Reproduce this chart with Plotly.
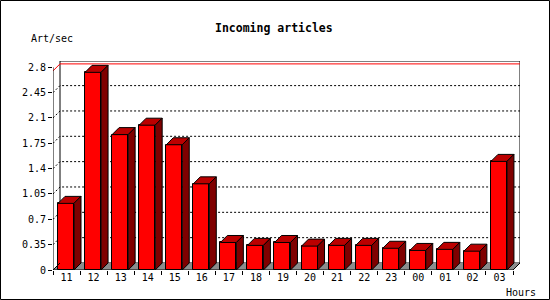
import plotly.graph_objects as go

# ---- data ----
hours = ["11", "12", "13", "14", "15", "16", "17", "18", "19", "20",
         "21", "22", "23", "00", "01", "02", "03"]
rates = [0.92, 2.73, 1.87, 2.0, 1.73, 1.19, 0.38, 0.34, 0.38, 0.33,
         0.34, 0.34, 0.30, 0.27, 0.285, 0.26, 1.50]
ytick_vals = [0, 0.35, 0.7, 1.05, 1.4, 1.75, 2.1, 2.45, 2.8]
ytick_text = ["0", "0.35", "0.7", "1.05", "1.4", "1.75", "2.1", "2.45", "2.8"]
max_line = 2.75
title = "Incoming articles"
ylabel = "Art/sec"
xlabel = "Hours"

# ---- geometry (pixels) ----
W, H = 550, 300
ML, MR, MT, MB = 53, 30, 61, 30
PW, PH = W - ML - MR, H - MT - MB
n = len(hours)
px_per_cat = 460 / n
px_per_unit = 72.4
DEPTH = 7
dx = DEPTH / px_per_cat
dy = DEPTH / px_per_unit
x0 = -0.5
xmax = x0 + PW / px_per_cat
ymax = PH / px_per_unit
xend = x0 + n
bw = 16 / px_per_cat
boff = -0.5 + 5 / px_per_cat

def xp(px):
    return (px - ML) / PW

def yp(py):
    return (H - MB - py) / PH

idx = list(range(n))

fig = go.Figure()

# front faces
fig.add_trace(go.Bar(
    x=idx, y=rates, width=bw, offset=boff,
    marker=dict(color="#ff0000", line=dict(color="black", width=1)),
    hoverinfo="skip", showlegend=False))

# top faces
tx, ty, sx, sy = [], [], [], []
for i, v in zip(idx, rates):
    L = i + boff
    R = L + bw
    tx += [L, L + dx, R + dx, R, L, None]
    ty += [v, v + dy, v + dy, v, v, None]
    sx += [R, R + dx, R + dx, R, R, None]
    sy += [0, dy, v + dy, v, 0, None]
fig.add_trace(go.Scatter(x=tx, y=ty, mode="lines", fill="toself",
                         fillcolor="#bb0000", line=dict(color="black", width=1),
                         hoverinfo="skip", showlegend=False))
fig.add_trace(go.Scatter(x=sx, y=sy, mode="lines", fill="toself",
                         fillcolor="#7f0000", line=dict(color="black", width=1),
                         hoverinfo="skip", showlegend=False))

shapes = []
# back panel
shapes.append(dict(type="rect", xref="x", yref="y", x0=x0 + dx, x1=xmax, y0=dy, y1=ymax,
                   line=dict(color="black", width=1), fillcolor="white", layer="below"))
# floor
shapes.append(dict(type="path", xref="x", yref="y",
                   path=f"M {x0} 0 L {xend} 0 L {xend + dx} {dy} L {x0 + dx} {dy} Z",
                   fillcolor="#8c8c8c", line=dict(width=0), layer="below"))
# grid lines (back wall + left wall)
for v in ytick_vals[1:-1]:
    shapes.append(dict(type="path", xref="x", yref="y",
                       path=f"M {x0} {v} L {x0 + dx} {v + dy} L {xmax} {v + dy}",
                       line=dict(color="black", width=1, dash="2px,2px"), layer="below"))
# max line
shapes.append(dict(type="path", xref="x", yref="y",
                   path=f"M {x0} {max_line} L {x0 + dx} {max_line + dy} L {xmax} {max_line + dy}",
                   line=dict(color="#ff0000", width=1), layer="below"))
# floor edges
shapes.append(dict(type="path", xref="x", yref="y",
                   path=f"M {x0 + dx} {dy} L {x0} 0 L {xend} 0 L {xend + dx} {dy}",
                   line=dict(color="black", width=1), layer="above"))
# front y-axis line
shapes.append(dict(type="line", xref="x", yref="y", x0=x0, x1=x0, y0=0, y1=ytick_vals[-1],
                   line=dict(color="black", width=1), layer="above"))
# outer border
shapes.append(dict(type="rect", xref="paper", yref="paper",
                   x0=xp(0.5), x1=xp(W - 0.5), y0=yp(H - 0.5), y1=yp(0.5),
                   line=dict(color="black", width=1), layer="above"))

mono = "DejaVu Sans Mono"
annotations = [
    dict(text="<b>" + title + "</b>", xref="paper", yref="paper", x=xp(274), y=yp(28),
         xanchor="center", yanchor="middle", showarrow=False,
         font=dict(family=mono, size=11.5, color="black")),
    dict(text=ylabel, xref="paper", yref="paper", x=xp(29), y=yp(39),
         xanchor="left", yanchor="middle", showarrow=False,
         font=dict(family=mono, size=10, color="black")),
    dict(text=xlabel, xref="paper", yref="paper", x=xp(504), y=yp(292),
         xanchor="left", yanchor="middle", showarrow=False,
         font=dict(family=mono, size=10, color="black")),
]

fig.update_layout(
    width=W, height=H, margin=dict(l=ML, r=MR, t=MT, b=MB, pad=0),
    paper_bgcolor="white", plot_bgcolor="white",
    shapes=shapes, annotations=annotations, bargap=0,
    xaxis=dict(range=[x0, xmax], tickmode="array", tickvals=idx, ticktext=hours,
               ticks="", showgrid=False, zeroline=False, showline=False,
               tickfont=dict(family=mono, size=10, color="black"),
               minor=dict(ticks="outside", tick0=-0.5, dtick=1, ticklen=4,
                          tickcolor="black", tickwidth=1, showgrid=False),
               fixedrange=True),
    yaxis=dict(range=[0, ymax], tickmode="array", tickvals=ytick_vals, ticktext=ytick_text,
               ticks="outside", ticklen=4, tickcolor="black", tickwidth=1,
               showgrid=False, zeroline=False, showline=False,
               tickfont=dict(family=mono, size=10, color="black"),
               fixedrange=True),
)

fig.write_html("out.html")
